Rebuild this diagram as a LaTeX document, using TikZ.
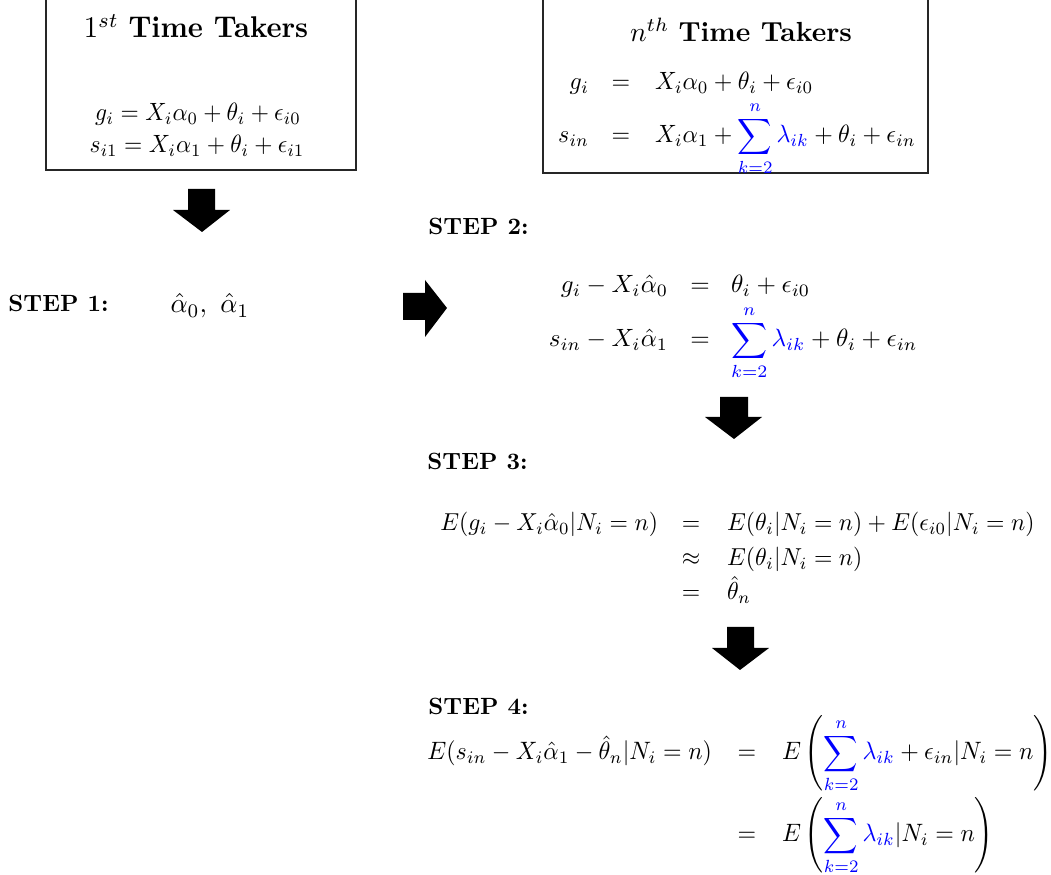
\documentclass[tikz,border=0pt]{standalone}
\usepackage{amsmath}
\newcommand{\bluesum}{{\color{blue}\sum_{k=2}^{n}\lambda_{ik}}}
\tikzset{
  eqbase/.style={inner sep=0pt, outer sep=0pt},
  eqA/.style={eqbase, xscale=1.09, yscale=1.163},
  eqB/.style={eqbase, xscale=1.11, yscale=1.163},
  eqC/.style={eqbase, xscale=1.163, yscale=1.163},
  eqD/.style={eqbase, xscale=1.10, yscale=1.14},
  eqE/.style={eqbase, xscale=1.11, yscale=1.17},
  steplabel/.style={inner sep=0pt, anchor=base west, scale=1.093, font=\bfseries},
  titleA/.style={inner sep=0pt, anchor=base, xscale=1.33, yscale=1.395},
  titleB/.style={inner sep=0pt, anchor=base, scale=1.284},
  frame/.style={draw=black!85, line width=0.7pt},
  blockarrow/.style={fill=black},
}
\begin{document}
\begin{tikzpicture}[x=0.4651pt, y=-0.4651pt]
\useasboundingbox (0,0) rectangle (1051,875);
\clip (0,0) rectangle (1051,875);

% Box 1
\draw[frame] (46,-5) rectangle (356,170);
\node[titleA] (t1) at (196,38) {$1^{st}$ \textbf{Time Takers}};
\node[eqA, anchor=base] (b1r1) at (198,121) {$g_i = X_i\alpha_0 + \theta_i + \epsilon_{i0}$};
\node[eqA, anchor=base] (b1r2) at (197,153) {$s_{i1} = X_i\alpha_1 + \theta_i + \epsilon_{i1}$};

% Box 2
\draw[frame] (543,-5) rectangle (928,173);
\node[titleB] (t2) at (741,42) {$n^{th}$ \textbf{Time Takers}};
\node[eqB, anchor=base east] (b2l1) at (589,90) {$g_i$};
\node[eqB, anchor=base] (b2e1) at (621,90) {$=$};
\node[eqB, anchor=base west] (b2r1) at (655,90) {$X_i\alpha_0+\theta_i+\epsilon_{i0}$};
\node[eqB, anchor=base east] (b2l2) at (589,143) {$s_{in}$};
\node[eqB, anchor=base] (b2e2) at (621,143) {$=$};
\node[eqB, anchor=base west] (b2r2) at (655,143) {$\displaystyle X_i\alpha_1+\bluesum+\theta_i+\epsilon_{in}$};

% arrows
\fill[blockarrow] (188,189) -- (215,189) -- (215,210) -- (230,210) -- (202,232) -- (173,210) -- (188,210) -- cycle;
\fill[blockarrow] (403,293) -- (425,293) -- (425,280) -- (447,308) -- (425,337) -- (425,320) -- (403,320) -- cycle;
\fill[blockarrow] (720,397) -- (748,397) -- (748,417) -- (762,417) -- (734,439) -- (705,417) -- (720,417) -- cycle;
\fill[blockarrow] (727,627) -- (754,627) -- (754,648) -- (769,648) -- (740,670) -- (712,648) -- (727,648) -- cycle;

% Step 1
\node[steplabel] (s1) at (8,312) {STEP 1:};
\node[inner sep=0pt, anchor=base west, xscale=1.24, yscale=1.28] (a1) at (170,313) {$\hat\alpha_0,\ \hat\alpha_1$};

% Step 2
\node[steplabel] (s2) at (428,235) {STEP 2:};
\node[eqC, anchor=base east] (s2l1) at (668,293) {$g_i - X_i\hat\alpha_0$};
\node[eqC, anchor=base] (s2e1) at (700,293) {$=$};
\node[eqC, anchor=base west] (s2r1) at (731,293) {$\theta_i + \epsilon_{i0}$};
\node[eqC, anchor=base east] (s2l2) at (668,347) {$s_{in} - X_i\hat\alpha_1$};
\node[eqC, anchor=base] (s2e2) at (700,347) {$=$};
\node[eqC, anchor=base west] (s2r2) at (731,347) {$\displaystyle \bluesum+\theta_i+\epsilon_{in}$};

% Step 3
\node[steplabel] (s3) at (427,470) {STEP 3:};
\node[eqD, anchor=base east] (s3l1) at (658,531) {$E(g_i - X_i\hat\alpha_0|N_i = n)$};
\node[eqD, anchor=base] (s3e1) at (691,531) {$=$};
\node[eqD, anchor=base west] (s3r1) at (727,531) {$E(\theta_i|N_i = n) + E(\epsilon_{i0}|N_i = n)$};
\node[eqD, anchor=base] (s3e2) at (691,566) {$\approx$};
\node[eqD, anchor=base west] (s3r2) at (727,566) {$E(\theta_i|N_i = n)$};
\node[eqD, anchor=base] (s3e3) at (691,600) {$=$};
\node[eqD, anchor=base west] (s3r3) at (727,600) {$\hat\theta_n$};

% Step 4
\node[steplabel] (s4) at (428,715) {STEP 4:};
\node[eqE, anchor=base east] (s4l1) at (712,760) {$E(s_{in} - X_i\hat\alpha_1 - \hat\theta_n|N_i = n)$};
\node[eqE, anchor=base] (s4e1) at (747,760) {$=$};
\node[eqE, anchor=base west] (s4r1) at (782,760) {$\displaystyle E\left(\bluesum + \epsilon_{in}|N_i = n\right)$};
\node[eqE, anchor=base] (s4e2) at (747,842) {$=$};
\node[eqE, anchor=base west] (s4r2) at (782,842) {$\displaystyle E\left(\bluesum|N_i = n\right)$};
\end{tikzpicture}
\end{document}
